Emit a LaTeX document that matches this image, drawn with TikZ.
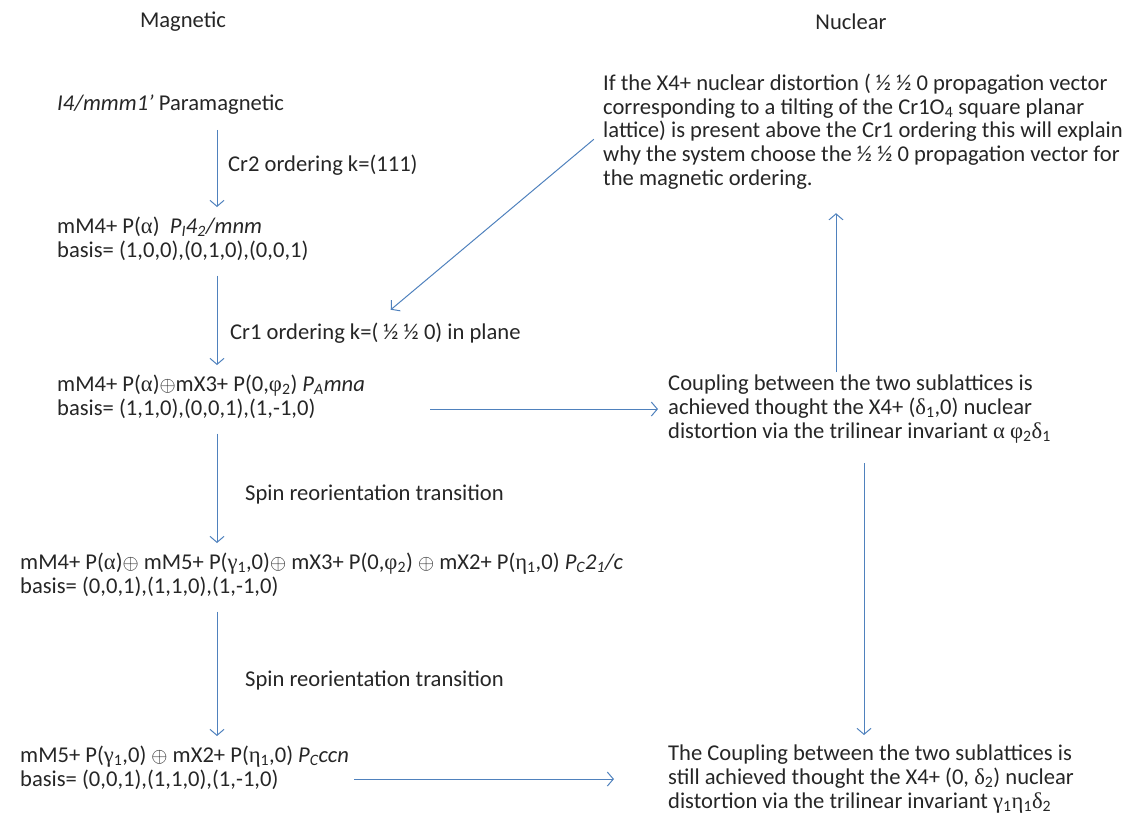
\documentclass[tikz,border=0pt]{standalone}
\usepackage{fontspec}
\setmainfont{Carlito}
\newfontfamily\greekfont{Liberation Serif}
\usepackage{amssymb}
\usepackage{tikz}
\definecolor{arrowblue}{RGB}{79,129,189}
\definecolor{ink}{RGB}{38,38,38}
\usetikzlibrary{positioning,arrows,arrows.meta,calc}
\newcommand*{\gr}[1]{{\greekfont #1}}
\newcommand*{\idx}[1]{\textsubscript{#1}}
\tikzset{%
  state/.style={anchor=north west, align=left, inner sep=0pt, text=ink},% magnetic / nuclear state
  trans/.style={anchor=west, inner sep=0pt, text=ink},% label next to a transition arrow
  heading/.style={anchor=center, inner sep=0pt, text=ink},% column title
  flow/.style={draw=arrowblue, line width=1pt, -{Straight Barb[length=6pt,width=14pt]},
    shorten <=15pt, shorten >=10pt}% transition arrows
}

\begin{document}
\begin{tikzpicture}[x=1pt, y=-1pt, font=\fontsize{22.6}{23.6}\selectfont]
\useasboundingbox (0,0) rectangle (1132,827);
\coordinate (spine) at (217,0);
\coordinate (upx) at (836,0);
\coordinate (downx) at (864,0);

\node[heading] (mag) at (183,22) {Magnetic};
\node[heading] (nuc) at (851,22) {Nuclear};

\node[state] (para) at (57,95) {\textit{I4/mmm1’} Paramagnetic};
\node[state] (tetra) at (57,217) {mM4+ P(\gr{α})\ \ \textit{P\idx{I}4\idx{2}/mnm}\\
basis= (1,0,0),(0,1,0),(0,0,1)};
\node[state] (ortho) at (57,375) {mM4+ P(\gr{α})$\oplus$mX3+ P(0,\gr{φ}\idx{2}) \textit{P\idx{A}mna}\\
basis= (1,1,0),(0,0,1),(1,-1,0)};
\node[state] (mono) at (20,553) {mM4+ P(\gr{α})$\oplus$ mM5+ P(\gr{γ}\idx{1},0)$\oplus$ mX3+ P(0,\gr{φ}\idx{2}) $\oplus$ mX2+ P(\gr{η}\idx{1},0) \textit{P\idx{C}2\idx{1}/c}\\
basis= (0,0,1),(1,1,0),(1,-1,0)};
\node[state] (ccn) at (20,746) {mM5+ P(\gr{γ}\idx{1},0) $\oplus$ mX2+ P(\gr{η}\idx{1},0) \textit{P\idx{C}ccn}\\
basis= (0,0,1),(1,1,0),(1,-1,0)};

\node[state] (tilt) at (603,74) {If the X4+ nuclear distortion ( ½ ½ 0 propagation vector\\
corresponding to a tilting of the Cr1O\idx{4} square planar\\
lattice) is present above the Cr1 ordering this will explain\\
why the system choose the ½ ½ 0 propagation vector for\\
the magnetic ordering.};
\node[state] (coupA) at (668,375) {Coupling between the two sublattices is\\
achieved thought the X4+ (\gr{δ}\idx{1},0) nuclear\\
distortion via the trilinear invariant \gr{α} \gr{φ}\idx{2}\gr{δ}\idx{1}};
\node[state] (coupB) at (668,745) {The Coupling between the two sublattices is\\
still achieved thought the X4+ (0, \gr{δ}\idx{2}) nuclear\\
distortion via the trilinear invariant \gr{γ}\idx{1}\gr{η}\idx{1}\gr{δ}\idx{2}};

\node[trans] (cr2) at (228,165) {Cr2 ordering k=(111)};
\node[trans] (cr1) at (230,333) {Cr1 ordering k=( ½ ½ 0) in plane};
\node[trans] (spin1) at (245,495) {Spin reorientation transition};
\node[trans] (spin2) at (245,680) {Spin reorientation transition};

% magnetic sequence
\draw[flow] (para.south -| spine) -- (tetra.north -| spine);
\draw[flow] (tetra.south -| spine) -- (ortho.north -| spine);
\draw[flow] (ortho.south -| spine) -- (mono.north -| spine);
\draw[flow] (mono.south -| spine) -- (ccn.north -| spine);

% coupling to the nuclear side
\draw[flow, shorten <=65pt] (ortho.east |- coupA.west) -- (coupA.west);
\draw[flow, shorten <=5pt, shorten >=54pt] (ccn.east |- coupB.west) -- (coupB.west);
\draw[flow, shorten <=3pt, shorten >=24pt] (coupA.north -| upx) -- (tilt.south -| upx);
\draw[flow, shorten <=20pt] (coupA.south -| downx) -- (coupB.north -| downx);
\draw[flow, shorten <=12pt, shorten >=20pt] (tilt.west) -- (cr1.north);
\end{tikzpicture}
\end{document}
